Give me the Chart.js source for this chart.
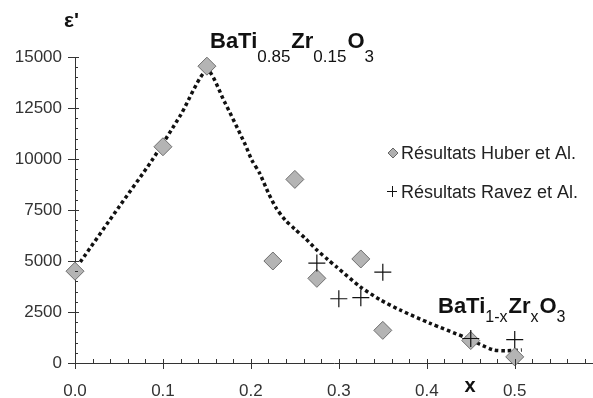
<!DOCTYPE html>
<html><head><meta charset="utf-8">
<script src="https://cdn.jsdelivr.net/npm/chart.js@4/dist/chart.umd.min.js"></script>
<style>html,body{margin:0;padding:0;background:#fff}#wrap{width:593px;height:398px;position:relative}</style>
</head><body><div id="wrap"><canvas id="c" width="593" height="398"></canvas></div>
<script>
// ---- data ----
const xTickValues = [0, 0.1, 0.2, 0.3, 0.4, 0.5];
const yTickValues = [0, 2500, 5000, 7500, 10000, 12500, 15000];

const huberX = [0, 0.1, 0.15, 0.225, 0.25, 0.275, 0.325, 0.35, 0.45, 0.5];
const huberY = [4500, 10600, 14550, 5000, 9000, 4150, 5100, 1600, 1100, 300];

const ravezX = [0.275, 0.3, 0.325, 0.35, 0.45, 0.5];
const ravezY = [4900, 3150, 3200, 4450, 1200, 1150];

const curveX = [0.006, 0.05, 0.087, 0.12, 0.15, 0.17, 0.193, 0.201, 0.21, 0.22, 0.229, 0.239, 0.25, 0.262, 0.275, 0.288, 0.297, 0.324, 0.347, 0.369, 0.403, 0.445, 0.475, 0.49, 0.508];
const curveY = [4950, 7650, 9900, 12150, 14350, 12800, 10760, 9950, 9300, 8320, 7580, 7010, 6560, 6100, 5540, 5050, 4725, 3750, 3100, 2610, 1960, 1230, 650, 600, 640];

const legendLabels = ['Résultats Huber et Al.', 'Résultats Ravez et Al.'];
const yAxisTitle = "ε'";
const xAxisTitle = 'x';
const formulaTop = [['BaTi', false], ['0.85', true], ['Zr', false], ['0.15', true], ['O', false], ['3', true]];
const formulaBottom = [['BaTi', false], ['1-x', true], ['Zr', false], ['x', true], ['O', false], ['3', true]];

const toPts = (xs, ys) => xs.map((x, i) => ({x: x, y: ys[i]}));

const FONT = '"Liberation Sans", Arial, sans-serif';
const AXIS = '#333';

function drawFormula(ctx, segs, x, yBase, subOff, subSize) {
  let cx = x;
  for (const [t, sub] of segs) {
    if (sub) { ctx.font = subSize + 'px ' + FONT; ctx.fillText(t, cx, yBase + subOff); }
    else { ctx.font = 'bold 22px ' + FONT; ctx.fillText(t, cx, yBase); }
    cx += ctx.measureText(t).width + (sub ? 1 : 0);
  }
}

const deco = {
  id: 'deco',
  afterDraw(chart) {
    const ctx = chart.ctx, xs = chart.scales.x, ys = chart.scales.y;
    const ax = xs.getPixelForValue(0), ay = ys.getPixelForValue(0);
    ctx.save();
    ctx.strokeStyle = AXIS; ctx.lineWidth = 1;
    ctx.beginPath();
    for (let v = 0; v <= 15000; v += 500) {
      const p = Math.round(ys.getPixelForValue(v)) + 0.5;
      if (v % 2500 === 0) { ctx.moveTo(ax - 7, p); ctx.lineTo(ax + 4, p); }
      else { ctx.moveTo(ax, p); ctx.lineTo(ax + 3, p); }
    }
    for (let i = 0; i <= 29; i++) {
      const v = i * 0.02;
      const p = Math.round(xs.getPixelForValue(v)) + 0.5;
      if (i % 5 === 0) { ctx.moveTo(p, ay - 4); ctx.lineTo(p, ay + 6); }
      else { ctx.moveTo(p, ay - 4); ctx.lineTo(p, ay); }
    }
    ctx.stroke();

    ctx.fillStyle = '#111';
    ctx.textBaseline = 'alphabetic';
    ctx.textAlign = 'left';
    ctx.font = 'bold 21px ' + FONT;
    ctx.fillText(yAxisTitle, 64, 27);
    ctx.font = 'bold 20px ' + FONT;
    ctx.textAlign = 'center';
    ctx.fillText(xAxisTitle, 470, 392);
    ctx.textAlign = 'left';

    drawFormula(ctx, formulaTop, 210, 48, 14, 17);
    drawFormula(ctx, formulaBottom, 438, 313, 9, 16);

    ctx.font = '18px ' + FONT;
    ctx.fillStyle = '#222';
    ctx.fillText(legendLabels[0], 401, 159);
    ctx.fillText(legendLabels[1], 401, 198);
    ctx.beginPath();
    const dx = 393, dy = 153, r = 5;
    ctx.moveTo(dx, dy - r); ctx.lineTo(dx + r, dy); ctx.lineTo(dx, dy + r); ctx.lineTo(dx - r, dy); ctx.closePath();
    ctx.fillStyle = '#b0b0b0'; ctx.fill();
    ctx.strokeStyle = '#666'; ctx.stroke();
    ctx.beginPath();
    ctx.strokeStyle = '#111';
    ctx.moveTo(387, 191.5); ctx.lineTo(397, 191.5);
    ctx.moveTo(392.5, 186); ctx.lineTo(392.5, 197);
    ctx.stroke();
    ctx.restore();
  }
};

new Chart(document.getElementById('c'), {
  type: 'scatter',
  data: {
    datasets: [
      {
        type: 'line', label: 'courbe', data: toPts(curveX, curveY),
        borderColor: '#111', borderWidth: 3.5, borderDash: [3.5, 3], borderCapStyle: 'butt',
        pointRadius: 0, tension: 0.25, fill: false, order: 3
      },
      {
        label: legendLabels[0], data: toPts(huberX, huberY),
        pointStyle: 'rectRot', pointRadius: 9, backgroundColor: '#b4b4b4', borderColor: '#6e6e6e', borderWidth: 1,
        clip: false, order: 2
      },
      {
        label: legendLabels[1], data: toPts(ravezX, ravezY),
        pointStyle: 'cross', pointRadius: 8.5, borderColor: '#111', borderWidth: 1.2,
        clip: false, order: 1
      }
    ]
  },
  options: {
    responsive: false, animation: false,
    layout: { autoPadding: false, padding: { top: 57, right: 0, left: 0, bottom: 0 } },
    plugins: { legend: { display: false }, tooltip: { enabled: false } },
    scales: {
      x: {
        type: 'linear', min: 0, max: 0.589,
        afterBuildTicks: s => { s.ticks = xTickValues.map(v => ({value: v})); },
        afterFit: s => { s.height = 35; s.paddingLeft = 0; s.paddingRight = 0; },
        grid: { display: true, drawOnChartArea: false, drawTicks: false, color: 'rgba(0,0,0,0)' },
        border: { display: true, color: AXIS, width: 1 },
        ticks: { padding: 18, color: '#333', font: { family: FONT, size: 17 }, callback: v => v.toFixed(1), maxRotation: 0, autoSkip: false }
      },
      y: {
        type: 'linear', min: 0, max: 15000,
        afterBuildTicks: s => { s.ticks = yTickValues.map(v => ({value: v})); },
        afterFit: s => { s.width = 75; },
        grid: { display: true, drawOnChartArea: false, drawTicks: false, color: 'rgba(0,0,0,0)' },
        border: { display: true, color: AXIS, width: 1 },
        ticks: { padding: 13, color: '#333', font: { family: FONT, size: 17 }, callback: v => String(v), autoSkip: false }
      }
    }
  },
  plugins: [deco]
});
</script></body></html>
